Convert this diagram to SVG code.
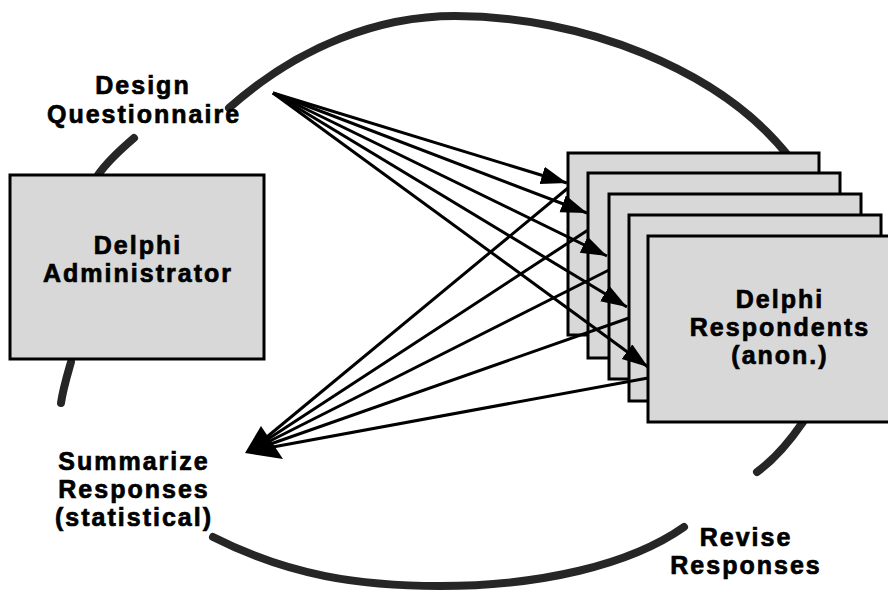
<svg xmlns="http://www.w3.org/2000/svg" width="888" height="594" viewBox="0 0 888 594">
<defs>
<style>
.arc{fill:none;stroke:#262626;stroke-width:8;stroke-linecap:round}
.box{fill:#d8d8d8;stroke:#000;stroke-width:3}
.lbl{font-family:"Liberation Sans",Arial,Helvetica,sans-serif;font-weight:bold;font-size:25px;letter-spacing:2px;fill:#000;stroke:#000;stroke-width:0.7;text-anchor:middle}
.ln{fill:none;stroke:#000;stroke-width:3}
</style>
<marker id="ah" markerUnits="userSpaceOnUse" markerWidth="30" markerHeight="20" refX="26" refY="9" orient="auto">
<path d="M0,0 L26,9 L0,18 z" fill="#000"/>
</marker>
</defs>
<g id="cycle">
<path class="arc" d="M229,108 C300,45 380,16 455,16 C580,16 720,68 790,158"/>
<path class="arc" d="M134,138 C120,150 107,162 98,175"/>
<path class="arc" d="M71,362 C67,376 63,389 61,403"/>
<path class="arc" d="M213,537 C290,576 360,586 440,586 C540,586 630,565 684,527"/>
<path class="arc" d="M803,422 C790,441 775,459 757,472"/>
</g>
<g id="admin">
<rect class="box" x="10" y="175" width="254" height="184"/>
<text class="lbl"><tspan x="138" y="254">Delphi</tspan><tspan x="138" y="282">Administrator</tspan></text>
</g>
<g id="respondents">
<rect class="box" x="568" y="153" width="251" height="182"/>
<rect class="box" x="588" y="173" width="252" height="185"/>
<rect class="box" x="609" y="194" width="252" height="185"/>
<rect class="box" x="629" y="215" width="252" height="186"/>
<rect class="box" x="648" y="236" width="252" height="186"/>
<text class="lbl"><tspan x="780" y="308">Delphi</tspan><tspan x="780" y="336">Respondents</tspan><tspan x="780" y="364">(anon.)</tspan></text>
</g>
<g id="design">
<text class="lbl"><tspan x="143" y="94">Design</tspan><tspan x="144" y="123">Questionnaire</tspan></text>
</g>
<g id="summarize">
<text class="lbl"><tspan x="134" y="470">Summarize</tspan><tspan x="134" y="498">Responses</tspan><tspan x="134" y="526">(statistical)</tspan></text>
</g>
<g id="revise">
<text class="lbl"><tspan x="746" y="546">Revise</tspan><tspan x="746" y="574">Responses</tspan></text>
</g>
<g id="connectors">
<line class="ln" x1="273" y1="93" x2="567" y2="183" marker-end="url(#ah)"/>
<line class="ln" x1="273" y1="93" x2="587" y2="213" marker-end="url(#ah)"/>
<line class="ln" x1="273" y1="93" x2="607" y2="256" marker-end="url(#ah)"/>
<line class="ln" x1="273" y1="93" x2="627" y2="307" marker-end="url(#ah)"/>
<line class="ln" x1="273" y1="93" x2="648" y2="367" marker-end="url(#ah)"/>
<line class="ln" x1="568" y1="188" x2="262" y2="441"/>
<line class="ln" x1="588" y1="230" x2="262" y2="443"/>
<line class="ln" x1="609" y1="270" x2="262" y2="445"/>
<line class="ln" x1="629" y1="318" x2="262" y2="447"/>
<line class="ln" x1="648" y1="378" x2="262" y2="449"/>
<path d="M245,453 L261,426 L283,459 z" fill="#000"/>
</g>
</svg>
